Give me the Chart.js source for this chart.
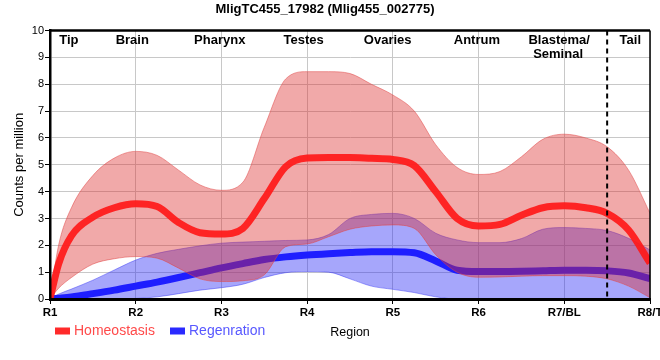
<!DOCTYPE html>
<html>
<head>
<meta charset="utf-8">
<title>MligTC455_17982</title>
<script src="https://cdn.jsdelivr.net/npm/chart.js@4.4.0/dist/chart.umd.min.js"></script>
<style>
  body { margin: 0; background: #fff; }
</style>
</head>
<body>
<canvas id="regionChart" width="660" height="360"></canvas>
<script>
// region profile, homeostasis vs regeneration

const regions = ['R1', 'R2', 'R3', 'R4', 'R5', 'R6', 'R7/BL', 'R8/T'];

// x positions along the body axis (1 = R1 ... 8 = R8/T)
const xs = [1, 1.1, 1.25, 1.5, 1.75, 2, 2.25, 2.5, 2.75, 3, 3.25, 3.5, 3.75, 4, 4.25,
    4.5, 4.75, 5, 5.25, 5.5, 5.75, 6, 6.25, 6.5, 6.75, 7, 7.25, 7.5, 7.75, 8];

const homMean = [0, 1.3, 2.35, 3.05, 3.4, 3.55, 3.45, 2.85, 2.47, 2.42, 2.63, 3.74, 4.93, 5.25, 5.27,
    5.27, 5.24, 5.2, 4.97, 4.0, 3.0, 2.72, 2.78, 3.12, 3.4, 3.47, 3.4, 3.19, 2.57, 1.34];
const homHi = [0, 2.0, 3.4, 4.6, 5.25, 5.5, 5.35, 4.8, 4.25, 4.05, 4.35, 6.4, 8.2, 8.47, 8.47,
    8.4, 8.0, 7.6, 7.0, 5.75, 4.9, 4.64, 4.75, 5.3, 5.95, 6.14, 6.0, 5.67, 4.8, 3.2];
const homLo = [0, 0.4, 0.8, 1.3, 1.5, 1.58, 1.52, 1.15, 0.75, 0.65, 0.68, 0.9, 1.95, 2.05, 2.32,
    2.6, 2.72, 2.76, 2.63, 1.65, 1.0, 0.81, 0.82, 0.85, 0.87, 0.87, 0.85, 0.75, 0.48, 0.05];

const regMean = [0, 0.03, 0.08, 0.2, 0.33, 0.48, 0.63, 0.8, 0.98, 1.16, 1.32, 1.47, 1.57, 1.64, 1.69,
    1.73, 1.76, 1.76, 1.72, 1.42, 1.07, 1.02, 1.02, 1.03, 1.05, 1.07, 1.07, 1.05, 0.97, 0.76];
const regHi = [0, 0.18, 0.37, 0.7, 1.08, 1.45, 1.7, 1.85, 1.98, 2.08, 2.12, 2.15, 2.18, 2.2, 2.4,
    3.0, 3.15, 3.19, 3.0, 2.45, 2.2, 2.1, 2.1, 2.25, 2.6, 2.66, 2.63, 2.55, 2.26, 1.83];
const regLo = [0, 0, 0, 0, 0.01, 0.02, 0.08, 0.2, 0.33, 0.42, 0.55, 0.8, 0.98, 1.02, 1.0,
    0.75, 0.48, 0.36, 0.24, 0.08, 0, 0, 0, 0, 0, 0, 0, 0, 0, 0];

// tissue names written across the top, with their x position
const tissues = [
    ['Tip', 1.22], ['Brain', 1.96], ['Pharynx', 2.98], ['Testes', 3.96],
    ['Ovaries', 4.94], ['Antrum', 5.98], ['Blastema/', 6.94], ['Tail', 7.77]
];
const tailBoundary = 7.5;

const pts = (arr) => xs.map((x, i) => ({x: x, y: arr[i]}));

Chart.defaults.font.family = "'Liberation Sans', Arial, sans-serif";
Chart.defaults.color = '#000';

const overlay = {
    id: 'overlay',
    afterDatasetsDraw(chart) {
        const ctx = chart.ctx;
        const a = chart.chartArea;
        const x = chart.scales.x;
        ctx.save();

        // dashed tail boundary
        const dx = x.getPixelForValue(tailBoundary);
        ctx.strokeStyle = '#000';
        ctx.lineWidth = 2;
        ctx.setLineDash([5, 4]);
        ctx.beginPath();
        ctx.moveTo(dx, a.top);
        ctx.lineTo(dx, a.bottom);
        ctx.stroke();
        ctx.setLineDash([]);

        // frame top and right
        ctx.lineWidth = 2.5;
        ctx.beginPath();
        ctx.moveTo(a.left, a.top);
        ctx.lineTo(a.right, a.top);
        ctx.stroke();
        ctx.lineWidth = 1.5;
        ctx.beginPath();
        ctx.moveTo(a.right, a.top);
        ctx.lineTo(a.right, a.bottom);
        ctx.stroke();

        // tissue names
        ctx.fillStyle = '#000';
        ctx.font = "bold 13px 'Liberation Sans', Arial, sans-serif";
        ctx.textAlign = 'center';
        ctx.textBaseline = 'middle';
        tissues.forEach(([name, pos]) => {
            ctx.fillText(name, x.getPixelForValue(pos), a.top + 10);
        });
        ctx.textAlign = 'left';
        ctx.fillText('Seminal', x.getPixelForValue(6.94) - 26, a.top + 24);
        ctx.restore();
    },
    afterDraw(chart) {
        const ctx = chart.ctx;
        ctx.save();
        ctx.font = "14px 'Liberation Sans', Arial, sans-serif";
        ctx.textBaseline = 'middle';
        const items = [
            {text: 'Homeostasis', box: '#ff2a2a', color: '#ff4a4a', x: 55},
            {text: 'Regenration', box: '#2a2aff', color: '#5858ff', x: 170}
        ];
        items.forEach(it => {
            ctx.fillStyle = it.box;
            ctx.fillRect(it.x, 327.5, 15, 7);
            ctx.fillStyle = it.color;
            ctx.fillText(it.text, it.x + 19, 331);
        });
        ctx.restore();
    }
};

new Chart(document.querySelector('#regionChart'), {
    type: 'line',
    data: {
        datasets: [
            {
                label: 'Homeostasis',
                data: pts(homMean),
                borderColor: 'rgba(255, 25, 25, 0.92)',
                borderWidth: 7,
                fill: false,
                order: 0
            },
            {
                label: 'Homeostasis upper',
                data: pts(homHi),
                borderColor: 'rgba(225, 80, 80, 0.55)',
                borderWidth: 1,
                backgroundColor: 'rgba(220, 40, 40, 0.4)',
                fill: '+1',
                order: 1
            },
            {
                label: 'Homeostasis lower',
                data: pts(homLo),
                borderColor: 'rgba(225, 80, 80, 0.55)',
                borderWidth: 1,
                fill: false,
                order: 2
            },
            {
                label: 'Regenration',
                data: pts(regMean),
                borderColor: '#1e1eff',
                borderWidth: 7,
                fill: false,
                order: 3
            },
            {
                label: 'Regenration upper',
                data: pts(regHi),
                borderColor: 'rgba(70, 70, 245, 0.5)',
                borderWidth: 1,
                backgroundColor: 'rgba(40, 40, 245, 0.41)',
                fill: '+1',
                order: 4
            },
            {
                label: 'Regenration lower',
                data: pts(regLo),
                borderColor: 'rgba(70, 70, 245, 0.5)',
                borderWidth: 1,
                fill: false,
                order: 5
            }
        ]
    },
    options: {
        responsive: false,
        animation: false,
        layout: { padding: { left: 0, right: 10, top: 0, bottom: 0 } },
        elements: {
            point: { radius: 0 },
            line: { cubicInterpolationMode: 'monotone' }
        },
        scales: {
            x: {
                type: 'linear',
                min: 1,
                max: 8,
                ticks: {
                    stepSize: 1,
                    padding: 2,
                    font: { size: 11.5, weight: 'bold' },
                    color: '#000',
                    callback: (v) => regions[Math.round(v) - 1]
                },
                grid: { color: '#c8c8c8', tickColor: '#000', tickLength: 5 },
                border: { color: '#000', width: 3, z: 1 },
                title: {
                    display: true,
                    text: 'Region',
                    font: { size: 12.5 },
                    color: '#000',
                    padding: { top: 0, bottom: 20 }
                },
                afterFit(s) { s.height = 61; s.paddingLeft = 0; s.paddingRight = 0; }
            },
            y: {
                min: 0,
                max: 10,
                ticks: { stepSize: 1, padding: 1, font: { size: 11 }, color: '#000' },
                grid: { color: '#c8c8c8', tickColor: '#000', tickLength: 5 },
                border: { color: '#000', width: 2.5, z: 1 },
                title: {
                    display: true,
                    text: 'Counts per million',
                    font: { size: 13 },
                    color: '#000',
                    padding: { top: 12, bottom: 0 }
                },
                afterFit(s) { s.width = 50; s.paddingTop = 0; s.paddingBottom = 0; }
            }
        },
        plugins: {
            legend: { display: false },
            tooltip: { enabled: false },
            title: {
                display: true,
                text: 'MligTC455_17982 (Mlig455_002775)',
                font: { size: 13, weight: 'bold' },
                color: '#000',
                padding: { top: 2, bottom: 13 }
            }
        }
    },
    plugins: [overlay]
});
</script>
</body>
</html>
